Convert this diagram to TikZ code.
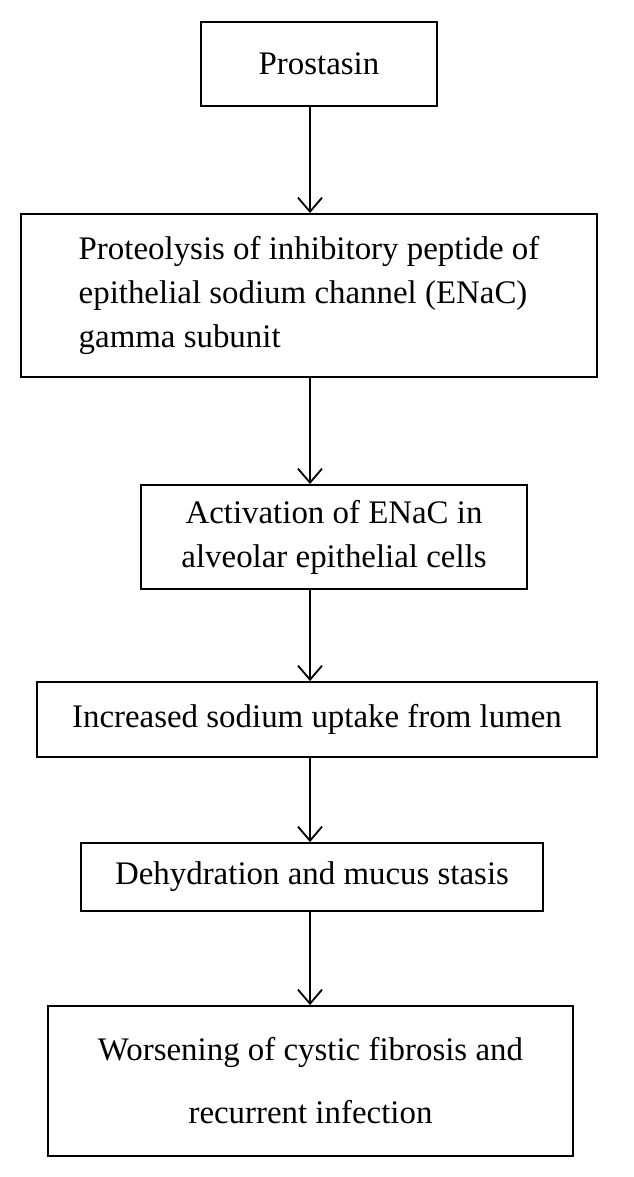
\documentclass[tikz,border=0pt]{standalone}
\usepackage{fontspec}
\setmainfont{Liberation Serif}
\usetikzlibrary{arrows.meta}

\begin{document}
\begin{tikzpicture}[
        x=0.025cm,y=-0.025cm,
        every node/.style={rectangle,draw,line width=1.3pt,inner sep=0pt,
            font=\fontsize{23.4}{31.3}\selectfont},
        >={Straight Barb[length=3.5mm,width=6mm,line width=1.3pt]},
        ->,line width=1.3pt
    ]
        \useasboundingbox (0,0) rectangle (633,1177);
        \coordinate (axis) at (310,0);

        \node[minimum width=5.9cm,minimum height=2.1cm] (n1) at (319,64) {Prostasin};
        \node[minimum width=14.4cm,minimum height=4.075cm,align=left] (n2) at (309,295.5)
            {Proteolysis of inhibitory peptide of\\epithelial sodium channel (ENaC)\\gamma subunit};
        \node[minimum width=9.65cm,minimum height=2.6cm,align=center] (n3) at (334,537)
            {Activation of ENaC in\\alveolar epithelial cells};
        \node[minimum width=14cm,minimum height=1.875cm] (n4) at (317,719.5)
            {Increased sodium uptake from lumen};
        \node[minimum width=11.55cm,minimum height=1.7cm] (n5) at (312,877)
            {Dehydration and mucus stasis};
        \node[minimum width=13.125cm,minimum height=3.75cm,align=center,
            font=\fontsize{23.4}{44.8}\selectfont] (n6) at (310.5,1081)
            {Worsening of cystic fibrosis and\\recurrent infection};

        \draw (n1.south -| axis) -- (n2.north -| axis);
        \draw (n2.south -| axis) -- (n3.north -| axis);
        \draw (n3.south -| axis) -- (n4.north -| axis);
        \draw (n4.south -| axis) -- (n5.north -| axis);
        \draw (n5.south -| axis) -- (n6.north -| axis);
    \end{tikzpicture}
\end{document}
